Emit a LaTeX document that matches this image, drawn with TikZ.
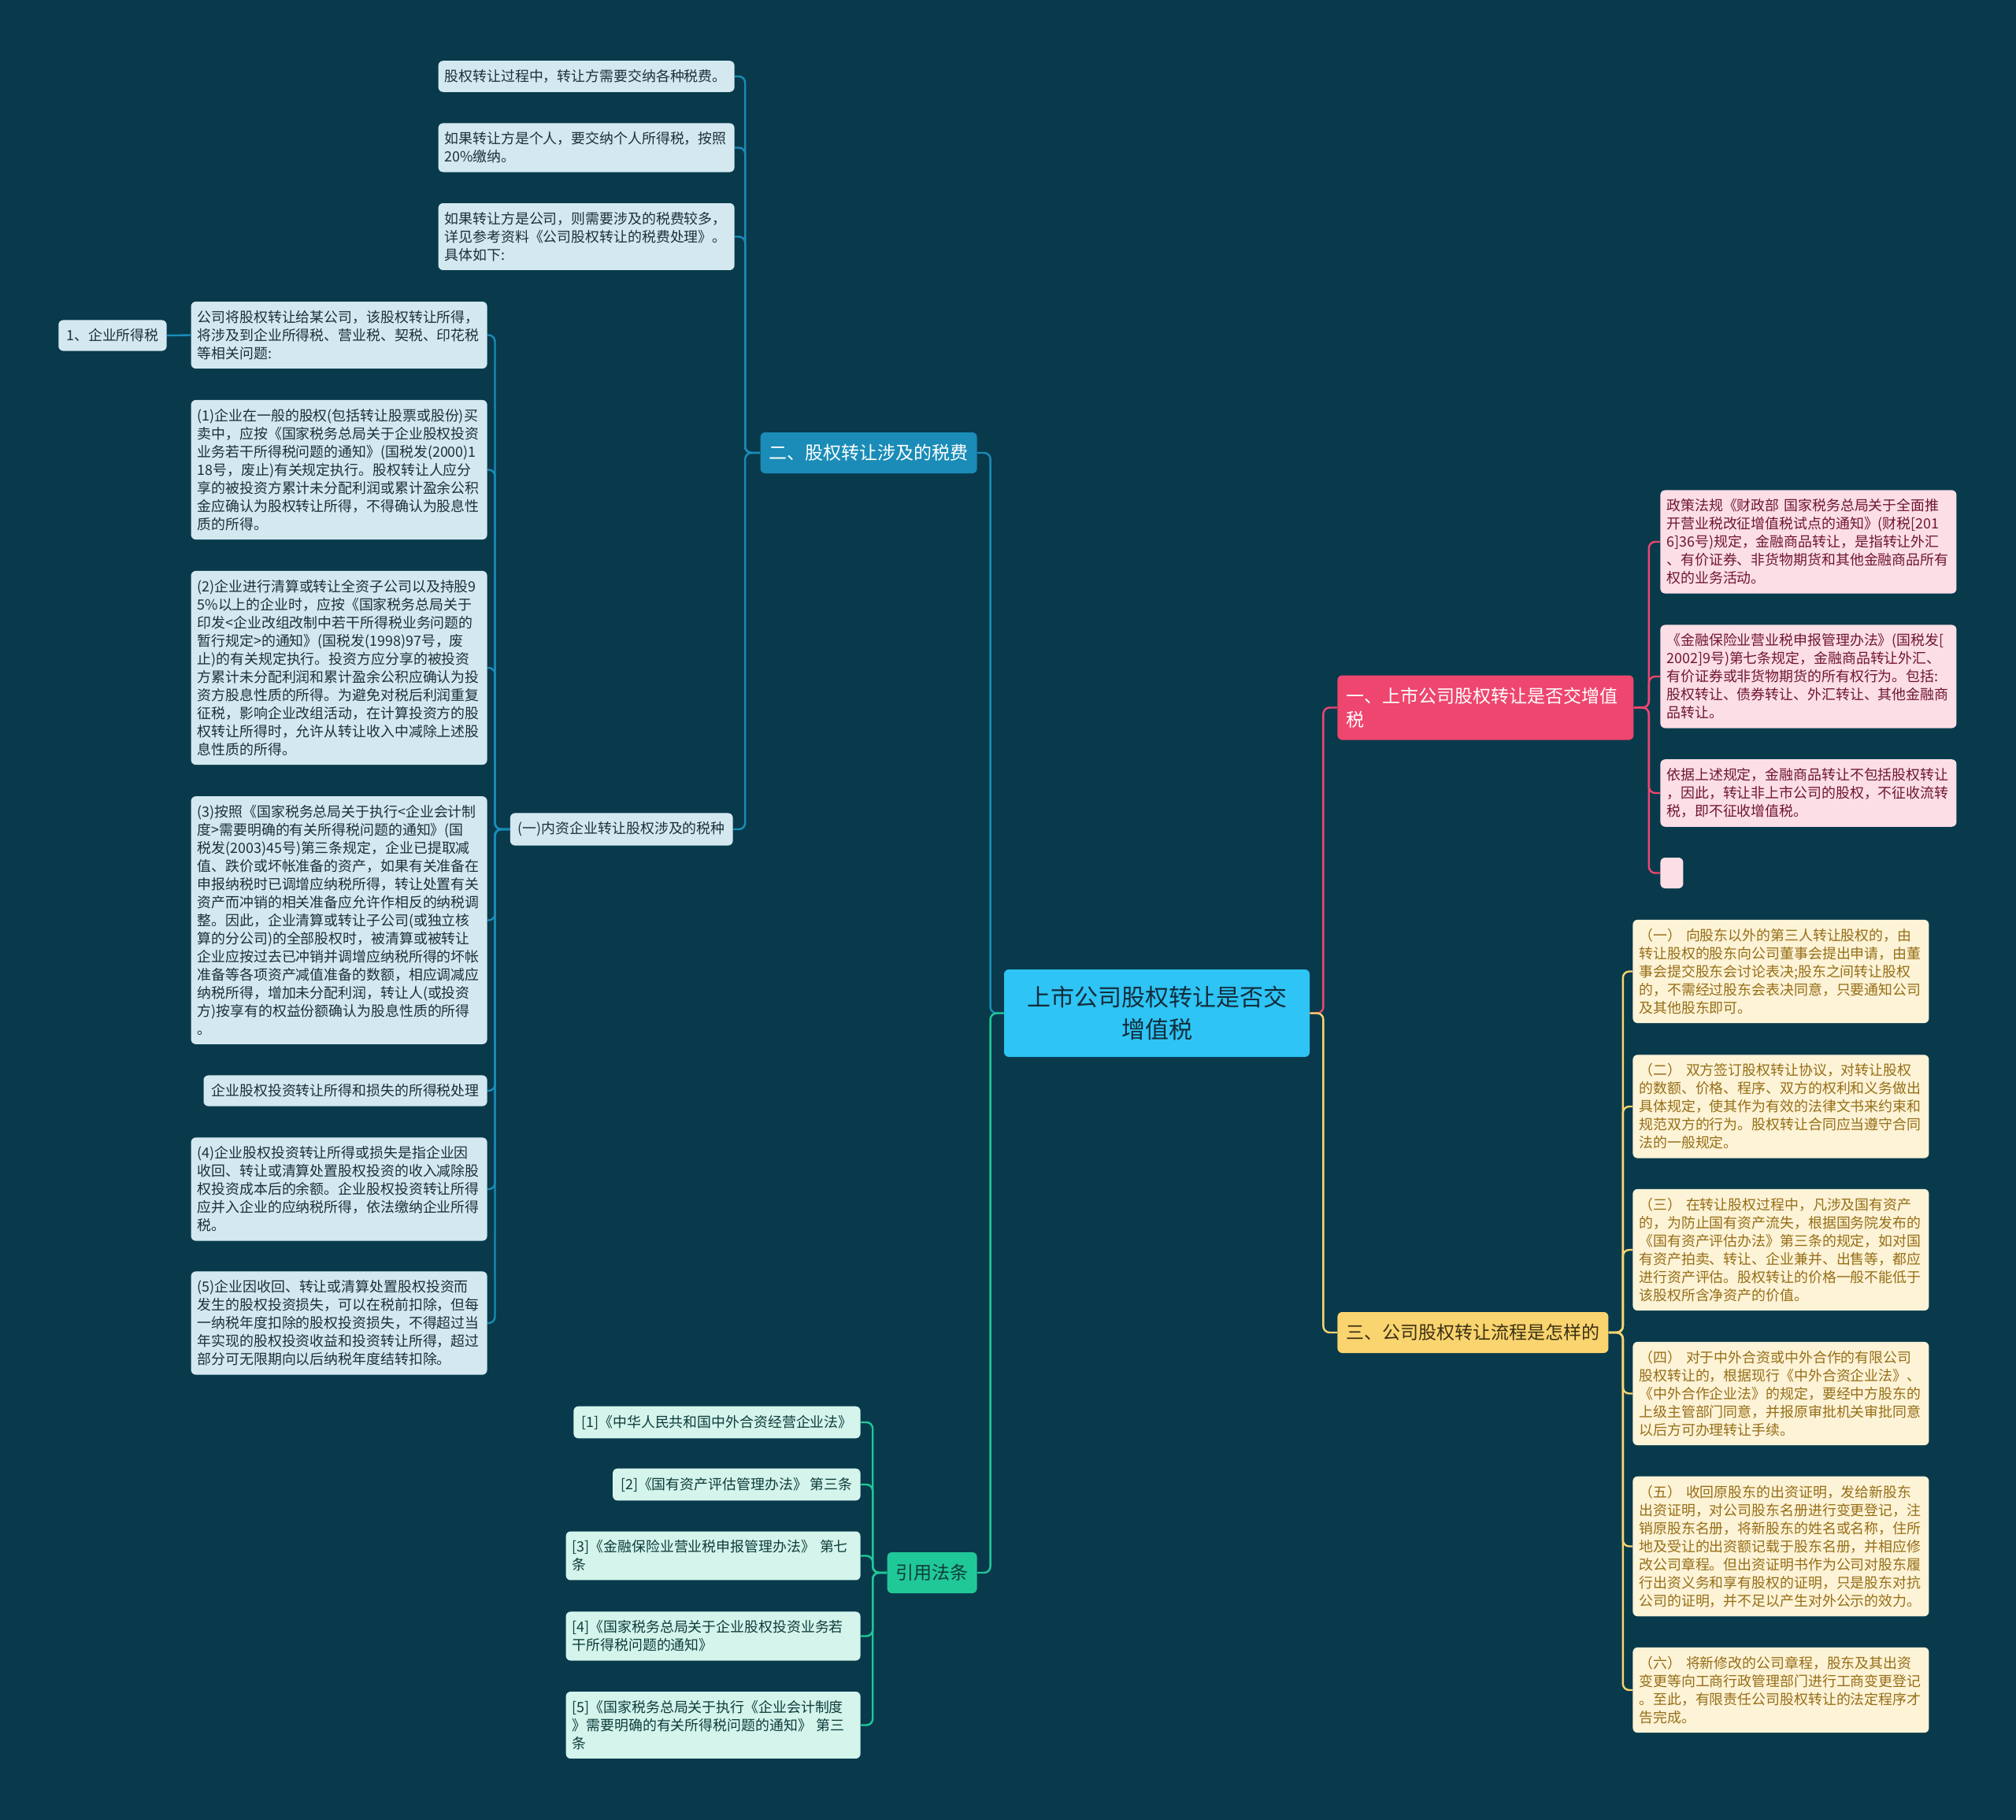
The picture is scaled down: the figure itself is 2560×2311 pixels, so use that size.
\documentclass[tikz,border=0pt]{standalone}
\usepackage{fontspec}
\newfontfamily\cjkfont{Noto Sans CJK SC}
\usepackage{tikz}
\usetikzlibrary{positioning}

\definecolor{bgc}{RGB}{8,58,76}
\definecolor{cRoot}{RGB}{46,196,245}
\definecolor{cRootT}{RGB}{18,44,58}
\definecolor{cBlue}{RGB}{26,140,183}
\definecolor{cBlueL}{RGB}{212,232,240}
\definecolor{cBlueT}{RGB}{28,48,58}
\definecolor{cPink}{RGB}{238,70,110}
\definecolor{cPinkL}{RGB}{252,222,230}
\definecolor{cPinkT}{RGB}{112,22,50}
\definecolor{cYel}{RGB}{250,212,110}
\definecolor{cYelL}{RGB}{253,243,215}
\definecolor{cYelT}{RGB}{150,110,22}
\definecolor{cYelDT}{RGB}{58,48,20}
\definecolor{cGrn}{RGB}{32,200,152}
\definecolor{cGrnL}{RGB}{212,244,236}
\definecolor{cGrnT}{RGB}{14,60,58}

\tikzstyle{tbox} = [rounded corners=3pt, align=left, inner xsep=4pt, inner ysep=5.6pt, font=\cjkfont\fontsize{8.95pt}{11.5pt}\selectfont]
\tikzstyle{leafb} = [tbox, fill=cBlueL, text=cBlueT, text width=180pt]
\tikzstyle{leafbn} = [tbox, fill=cBlueL, text=cBlueT, inner xsep=5pt]
\tikzstyle{leafp} = [tbox, fill=cPinkL, text=cPinkT, text width=180pt]
\tikzstyle{leafy} = [tbox, fill=cYelL, text=cYelT, text width=180pt]
\tikzstyle{cite} = [tbox, fill=cGrnL, text=cGrnT, inner xsep=5pt]
\tikzstyle{citew} = [tbox, fill=cGrnL, text=cGrnT, text width=179pt]
\tikzstyle{topic} = [rounded corners=3pt, inner xsep=5.5pt, inner ysep=0pt, minimum height=26pt, font=\cjkfont\fontsize{11.5pt}{15.3pt}\selectfont]
\tikzstyle{rootbox} = [rounded corners=3pt, fill=cRoot, text=cRootT, align=center, inner sep=0pt, text width=194pt, minimum height=55.5pt, font=\cjkfont\fontsize{15pt}{20.3pt}\selectfont]
\tikzstyle{lnb} = [draw=cBlue, line width=1.2pt, rounded corners=4pt]
\tikzstyle{lng} = [draw=cGrn, line width=1.2pt, rounded corners=4pt]
\tikzstyle{lnp} = [draw=cPink, line width=1.2pt, rounded corners=4pt]
\tikzstyle{lny} = [draw=cYel, line width=1.2pt, rounded corners=4pt]

\begin{document}
\begin{tikzpicture}[x=0.5pt, y=-0.5pt]
\fill [bgc] (0,0) rectangle (2560,2311);
\useasboundingbox (0,0) rectangle (2560,2311);

\node [rootbox] (R) at (1469, 1286.5) {上市公司股权转让是否交\\增值税};

% 二 branch
\node [topic, fill=cBlue, text=white, anchor=east] (B) at (1241, 575) {二、股权转让涉及的税费};
\node [leafb, anchor=east] (B1) at (933, 97) {股权转让过程中，转让方需要交纳各种税费。};
\node [leafb, anchor=east] (B2) at (933, 187.5) {如果转让方是个人，要交纳个人所得税，按照\\20\%缴纳。};
\node [leafb, anchor=east] (B3) at (933, 300.5) {如果转让方是公司，则需要涉及的税费较多，\\详见参考资料《公司股权转让的税费处理》。\\具体如下:};
\node [leafbn, anchor=east] (B4) at (931, 1053) {(一)内资企业转让股权涉及的税种};

\node [leafb, anchor=east] (L1) at (619, 425.5) {公司将股权转让给某公司，该股权转让所得，\\将涉及到企业所得税、营业税、契税、印花税\\等相关问题:};
\node [leafbn, anchor=east] (E) at (212, 426) {1、企业所得税};
\node [leafb, anchor=east] (L2) at (619, 596.5) {(1)企业在一般的股权(包括转让股票或股份)买\\卖中，应按《国家税务总局关于企业股权投资\\业务若干所得税问题的通知》(国税发(2000)1\\18号，废止)有关规定执行。股权转让人应分\\享的被投资方累计未分配利润或累计盈余公积\\金应确认为股权转让所得，不得确认为股息性\\质的所得。};
\node [leafb, anchor=east] (L3) at (619, 848) {(2)企业进行清算或转让全资子公司以及持股9\\5\%以上的企业时，应按《国家税务总局关于\\印发<企业改组改制中若干所得税业务问题的\\暂行规定>的通知》(国税发(1998)97号，废\\止)的有关规定执行。投资方应分享的被投资\\方累计未分配利润和累计盈余公积应确认为投\\资方股息性质的所得。为避免对税后利润重复\\征税，影响企业改组活动，在计算投资方的股\\权转让所得时，允许从转让收入中减除上述股\\息性质的所得。};
\node [leafb, anchor=east] (L4) at (619, 1168.5) {(3)按照《国家税务总局关于执行<企业会计制\\度>需要明确的有关所得税问题的通知》(国\\税发(2003)45号)第三条规定，企业已提取减\\值、跌价或坏帐准备的资产，如果有关准备在\\申报纳税时已调增应纳税所得，转让处置有关\\资产而冲销的相关准备应允许作相反的纳税调\\整。因此，企业清算或转让子公司(或独立核\\算的分公司)的全部股权时，被清算或被转让\\企业应按过去已冲销并调增应纳税所得的坏帐\\准备等各项资产减值准备的数额，相应调减应\\纳税所得，增加未分配利润，转让人(或投资\\方)按享有的权益份额确认为股息性质的所得\\。};
\node [leafbn, anchor=east] (L5) at (619, 1385) {企业股权投资转让所得和损失的所得税处理};
\node [leafb, anchor=east] (L6) at (619, 1510) {(4)企业股权投资转让所得或损失是指企业因\\收回、转让或清算处置股权投资的收入减除股\\权投资成本后的余额。企业股权投资转让所得\\应并入企业的应纳税所得，依法缴纳企业所得\\税。};
\node [leafb, anchor=east] (L7) at (619, 1680) {(5)企业因收回、转让或清算处置股权投资而\\发生的股权投资损失，可以在税前扣除，但每\\一纳税年度扣除的股权投资损失，不得超过当\\年实现的股权投资收益和投资转让所得，超过\\部分可无限期向以后纳税年度结转扣除。};

\draw [lnb] (R.west) -- ++(-17,0) |- (B.east);
\foreach \n in {B1,B2,B3,B4}
  \draw [lnb] (B.west) -- ++(-19,0) |- (\n.east);
\foreach \n in {L1,L2,L3,L4,L5,L6,L7}
  \draw [lnb] (B4.west) -- ++(-19,0) |- (\n.east);
\draw [lnb] (L1.west) -- (E.east);

% 引用法条
\node [topic, fill=cGrn, text=cGrnT, anchor=east] (G) at (1241, 1997) {引用法条};
\node [cite, anchor=east] (C1) at (1093, 1806) {[1]《中华人民共和国中外合资经营企业法》};
\node [cite, anchor=east] (C2) at (1093, 1885) {[2]《国有资产评估管理办法》 第三条};
\node [citew, anchor=east] (C3) at (1093, 1975.5) {[3]《金融保险业营业税申报管理办法》 第七\\条};
\node [citew, anchor=east] (C4) at (1093, 2077.5) {[4]《国家税务总局关于企业股权投资业务若\\干所得税问题的通知》};
\node [citew, anchor=east] (C5) at (1093, 2190.5) {[5]《国家税务总局关于执行《企业会计制度\\》需要明确的有关所得税问题的通知》 第三\\条};

\draw [lng] (R.west) -- ++(-17,0) |- (G.east);
\foreach \n in {C1,C2,C3,C4,C5}
  \draw [lng] (G.west) -- ++(-18,0) |- (\n.east);

% 一 branch
\node [topic, fill=cPink, text=white, align=left, text width=177pt, minimum height=41pt, anchor=west] (P) at (1698, 898.5) {一、上市公司股权转让是否交增值\\税};
\node [leafp, anchor=west] (P1) at (2108, 688) {政策法规《财政部 国家税务总局关于全面推\\开营业税改征增值税试点的通知》(财税[201\\6]36号)规定，金融商品转让，是指转让外汇\\、有价证券、非货物期货和其他金融商品所有\\权的业务活动。};
\node [leafp, anchor=west] (P2) at (2108, 859) {《金融保险业营业税申报管理办法》(国税发[\\2002]9号)第七条规定，金融商品转让外汇、\\有价证券或非货物期货的所有权行为。包括:\\股权转让、债券转让、外汇转让、其他金融商\\品转让。};
\node [leafp, anchor=west] (P3) at (2108, 1007) {依据上述规定，金融商品转让不包括股权转让\\，因此，转让非上市公司的股权，不征收流转\\税，即不征收增值税。};
\node [fill=cPinkL, rounded corners=3pt, minimum width=14.5pt, minimum height=19.5pt, anchor=west] (P4) at (2108, 1108.5) {};

\draw [lnp] (R.east) -- ++(17,0) |- (P.west);
\foreach \n in {P1,P2,P3,P4}
  \draw [lnp] (P.east) -- ++(19,0) |- (\n.west);

% 三 branch
\node [topic, fill=cYel, text=cYelDT, anchor=west] (Y) at (1698, 1692) {三、公司股权转让流程是怎样的};
\node [leafy, anchor=west] (Y1) at (2073, 1233.5) {（一） 向股东以外的第三人转让股权的，由\\转让股权的股东向公司董事会提出申请，由董\\事会提交股东会讨论表决;股东之间转让股权\\的，不需经过股东会表决同意，只要通知公司\\及其他股东即可。};
\node [leafy, anchor=west] (Y2) at (2073, 1405) {（二） 双方签订股权转让协议，对转让股权\\的数额、价格、程序、双方的权利和义务做出\\具体规定，使其作为有效的法律文书来约束和\\规范双方的行为。股权转让合同应当遵守合同\\法的一般规定。};
\node [leafy, anchor=west] (Y3) at (2073, 1587) {（三） 在转让股权过程中，凡涉及国有资产\\的，为防止国有资产流失，根据国务院发布的\\《国有资产评估办法》第三条的规定，如对国\\有资产拍卖、转让、企业兼并、出售等，都应\\进行资产评估。股权转让的价格一般不能低于\\该股权所含净资产的价值。};
\node [leafy, anchor=west] (Y4) at (2073, 1769.5) {（四） 对于中外合资或中外合作的有限公司\\股权转让的，根据现行《中外合资企业法》、\\《中外合作企业法》的规定，要经中方股东的\\上级主管部门同意，并报原审批机关审批同意\\以后方可办理转让手续。};
\node [leafy, anchor=west] (Y5) at (2073, 1963.5) {（五） 收回原股东的出资证明，发给新股东\\出资证明，对公司股东名册进行变更登记，注\\销原股东名册，将新股东的姓名或名称，住所\\地及受让的出资额记载于股东名册，并相应修\\改公司章程。但出资证明书作为公司对股东履\\行出资义务和享有股权的证明，只是股东对抗\\公司的证明，并不足以产生对外公示的效力。};
\node [leafy, anchor=west] (Y6) at (2073, 2146) {（六） 将新修改的公司章程，股东及其出资\\变更等向工商行政管理部门进行工商变更登记\\。至此，有限责任公司股权转让的法定程序才\\告完成。};

\draw [lny] (R.east) -- ++(17,0) |- (Y.west);
\foreach \n in {Y1,Y2,Y3,Y4,Y5,Y6}
  \draw [lny] (Y.east) -- ++(18,0) |- (\n.west);
\end{tikzpicture}
\end{document}
